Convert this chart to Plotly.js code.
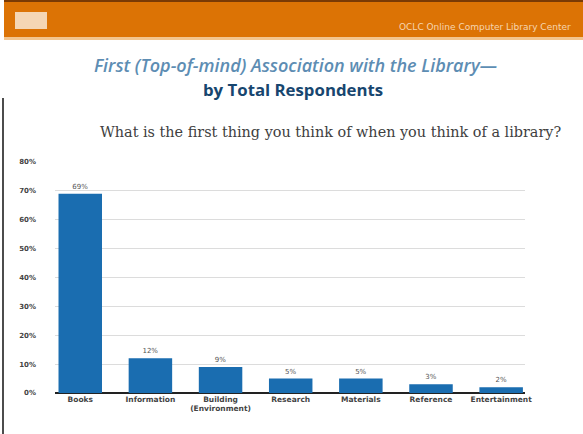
<!DOCTYPE html>
<html>
<head>
<meta charset="utf-8">
<script src="https://cdn.plot.ly/plotly-3.0.1.min.js"></script>
<style>html,body{margin:0;padding:0;background:#fff;}#chart{width:583px;height:434px;}</style>
</head>
<body>
<div id="chart"></div>
<script>
var categories = ["Books", "Information", "Building<br>(Environment)", "Research", "Materials", "Reference", "Entertainment"];
var values = [69, 12, 9, 5, 5, 3, 2];
var valueLabels = ["69%", "12%", "9%", "5%", "5%", "3%", "2%"];
var tickVals = [0, 10, 20, 30, 40, 50, 60, 70, 80];
var tickText = ["0%", "10%", "20%", "30%", "40%", "50%", "60%", "70%", "80%"];

var W = 583, H = 434;
var M = {l: 55, r: 58, t: 162, b: 41};
var pw = W - M.l - M.r, ph = H - M.t - M.b;
function px(x) { return (x - M.l) / pw; }
function py(y) { return (H - M.b - y) / ph; }

var trace = {
  type: "bar",
  x: categories.map(function(c, i){ return i; }),
  y: values,
  text: valueLabels,
  textposition: "outside",
  textfont: {family: "DejaVu Sans, sans-serif", size: 7, color: "#555"},
  cliponaxis: false,
  marker: {color: "#1a6db0", line: {width: 0}},
  width: 0.62,
  hoverinfo: "none"
};

var layout = {
  width: W, height: H,
  margin: M,
  paper_bgcolor: "#ffffff",
  plot_bgcolor: "#ffffff",
  showlegend: false,
  xaxis: {
    range: [-0.36, 6.34],
    tickvals: [0,1,2,3,4,5,6],
    ticktext: categories,
    tickfont: {family: "DejaVu Sans, sans-serif", size: 7.5, color: "#444", weight: "bold"},
    showgrid: false, zeroline: false,
    showline: false, ticks: "", ticklen: 0,
    fixedrange: true
  },
  yaxis: {
    range: [0, 80],
    tickvals: tickVals,
    ticktext: tickText,
    tickfont: {family: "DejaVu Sans, sans-serif", size: 7, color: "#444", weight: "bold"},
    showgrid: true, gridcolor: "#dcdcdc", gridwidth: 1,
    zeroline: true, zerolinecolor: "#222", zerolinewidth: 2,
    showline: false, ticks: "", ticklabelstandoff: 18,
    fixedrange: true
  },
  shapes: [
    {type: "rect", xref: "paper", yref: "paper", x0: px(4), x1: px(583), y0: py(38), y1: py(1), fillcolor: "#dc7305", line: {width: 0}, layer: "below"},
    {type: "rect", xref: "paper", yref: "paper", x0: px(4), x1: px(583), y0: py(2), y1: py(0), fillcolor: "#7a3a05", line: {width: 0}, layer: "below"},
    {type: "rect", xref: "paper", yref: "paper", x0: px(4), x1: px(583), y0: py(40), y1: py(37), fillcolor: "#f3c58f", line: {width: 0}, layer: "below"},
    {type: "rect", xref: "paper", yref: "paper", x0: px(15), x1: px(47), y0: py(29), y1: py(12), fillcolor: "#f5d6b4", line: {width: 0}, layer: "below"},
    {type: "line", xref: "paper", yref: "paper", x0: px(3), x1: px(3), y0: py(98), y1: py(434), line: {color: "#111", width: 1.5}}
  ],
  annotations: [
    {xref: "paper", yref: "paper", x: px(573), y: py(27), xanchor: "right", yanchor: "middle", showarrow: false,
     text: "OCLC Online Computer Library Center", font: {family: "DejaVu Sans, sans-serif", size: 9, color: "#f6d5b0"}},
    {xref: "paper", yref: "paper", x: px(295), y: py(65), xanchor: "center", yanchor: "middle", showarrow: false,
     text: "<i>First (Top-of-mind) Association with the Library\u2014</i>", font: {family: "Open Sans, sans-serif", size: 18, color: "#5d8db3", weight: 600}},
    {xref: "paper", yref: "paper", x: px(293), y: py(90), xanchor: "center", yanchor: "middle", showarrow: false,
     text: "<b>by Total Respondents</b>", font: {family: "Open Sans, sans-serif", size: 16.8, color: "#17466f"}},
    {xref: "paper", yref: "paper", x: px(563), y: py(132), xanchor: "right", yanchor: "middle", showarrow: false,
     text: "What is the first thing you think of when you think of a library?", font: {family: "DejaVu Serif, serif", size: 14.4, color: "#404040"}}
  ]
};

Plotly.newPlot("chart", [trace], layout, {displayModeBar: false, staticPlot: true});
</script>
</body>
</html>
